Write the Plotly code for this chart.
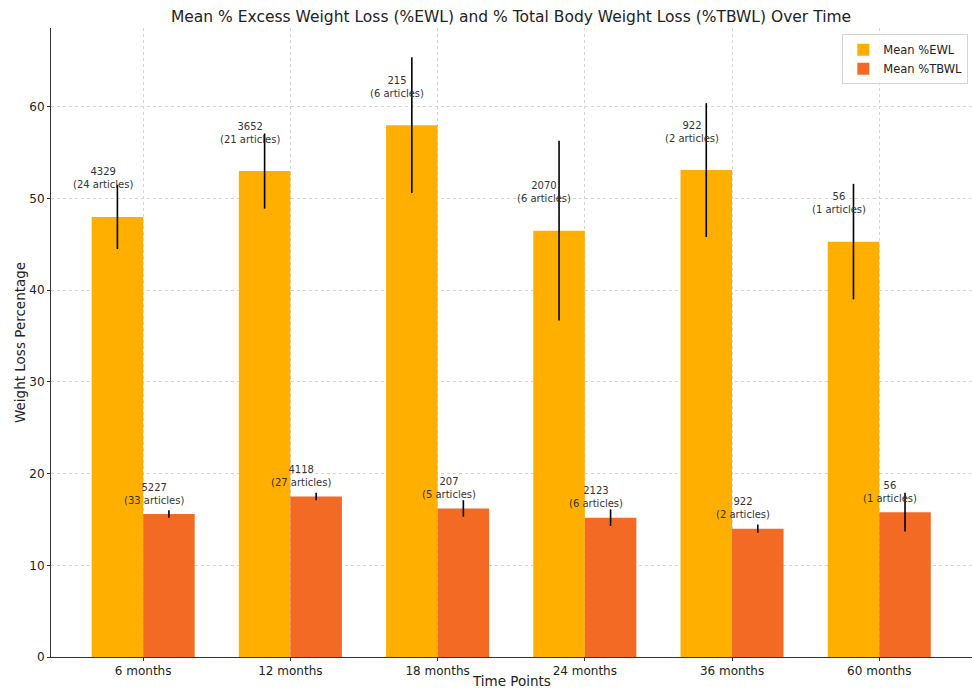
import plotly.graph_objects as go

categories = ["6 months", "12 months", "18 months", "24 months", "36 months", "60 months"]
ewl_mean = [48.0, 53.0, 58.0, 46.5, 53.1, 45.3]
ewl_err = [3.5, 4.1, 7.4, 9.8, 7.3, 6.3]
ewl_patients = [4329, 3652, 215, 2070, 922, 56]
ewl_articles = [24, 21, 6, 6, 2, 1]
tbwl_mean = [15.6, 17.5, 16.2, 15.2, 14.0, 15.8]
tbwl_err = [0.4, 0.4, 0.9, 0.9, 0.45, 2.1]
tbwl_patients = [5227, 4118, 207, 2123, 922, 56]
tbwl_articles = [33, 27, 5, 6, 2, 1]

W = 0.35
xs = list(range(len(categories)))
EWL_COLOR = "#FFAF00"
TBWL_COLOR = "#F26A23"
FONT = "DejaVu Sans"

fig = go.Figure()
fig.add_trace(go.Bar(
    x=xs, y=ewl_mean, name="Mean %EWL", width=W, offset=-W,
    marker=dict(color=EWL_COLOR, line=dict(width=0)),
    error_y=dict(type="data", array=ewl_err, color="black", thickness=1.6, width=0),
))
fig.add_trace(go.Bar(
    x=xs, y=tbwl_mean, name="Mean %TBWL", width=W, offset=0,
    marker=dict(color=TBWL_COLOR, line=dict(width=0)),
    error_y=dict(type="data", array=tbwl_err, color="black", thickness=1.6, width=0),
))

PL, PR, PT, PB = 51, 972, 28, 657
H, Wd = 690, 972


def px_x(x):
    return (x - PL) / (PR - PL)


def px_y(y):
    return (PB - y) / (PB - PT)


annotations = []
for i in xs:
    annotations.append(dict(
        x=i - W / 2 - 0.1, y=ewl_mean[i] + 3, xref="x", yref="y", yshift=-3,
        text=f"{ewl_patients[i]}<br>({ewl_articles[i]} articles)",
        showarrow=False, yanchor="bottom", xanchor="center",
        font=dict(family=FONT, size=10, color="#333333"),
    ))
    annotations.append(dict(
        x=i + W / 2 - 0.1, y=tbwl_mean[i] + 1, xref="x", yref="y", yshift=-3,
        text=f"{tbwl_patients[i]}<br>({tbwl_articles[i]} articles)",
        showarrow=False, yanchor="bottom", xanchor="center",
        font=dict(family=FONT, size=10, color="#333333"),
    ))

annotations.append(dict(
    text="Time Points", x=px_x(511), y=px_y(681), xref="paper", yref="paper",
    xanchor="center", yanchor="middle",
    showarrow=False, font=dict(family=FONT, size=13.5, color="#222222"),
))
annotations.append(dict(
    text="Weight Loss Percentage", textangle=-90, x=px_x(20), y=px_y(343),
    xref="paper", yref="paper", xanchor="center", yanchor="middle",
    showarrow=False, font=dict(family=FONT, size=13.5, color="#222222"),
))

fig.update_layout(
    width=Wd, height=H,
    margin=dict(l=PL, r=Wd - PR, t=PT, b=H - PB, autoexpand=False),
    paper_bgcolor="white", plot_bgcolor="white",
    barmode="overlay",
    font=dict(family=FONT, size=12, color="#222222"),
    title=dict(
        text="Mean % Excess Weight Loss (%EWL) and % Total Body Weight Loss (%TBWL) Over Time",
        x=px_x(511), xref="paper", xanchor="center", y=1 - 17 / H, yanchor="middle",
        font=dict(family=FONT, size=15.5, color="#222222"),
    ),
    legend=dict(
        x=0.996, y=0.99, xanchor="right", yanchor="top",
        bordercolor="#d5d5d5", borderwidth=1, bgcolor="rgba(255,255,255,0.8)",
        font=dict(family=FONT, size=11.5), itemwidth=30, tracegroupgap=0,
    ),
    annotations=annotations,
    showlegend=True,
)
fig.update_xaxes(
    range=[-0.626, 5.63], tickvals=xs, ticktext=categories,
    showgrid=True, gridcolor="#d6d6d6", griddash="dot", gridwidth=1,
    showline=True, linecolor="#333333", linewidth=1,
    ticks="outside", ticklen=3, tickcolor="#333333",
    tickfont=dict(family=FONT, size=12),
    automargin=False, zeroline=False,
)
fig.update_yaxes(
    range=[0, 68.6], tickvals=[0, 10, 20, 30, 40, 50, 60],
    showgrid=True, gridcolor="#d6d6d6", griddash="dot", gridwidth=1,
    showline=True, linecolor="#333333", linewidth=1,
    ticks="outside", ticklen=3, tickcolor="#333333",
    tickfont=dict(family=FONT, size=12),
    automargin=False, zeroline=False,
)

fig.write_html(
    "out.html",
    config={"displayModeBar": False},
    post_script="document.body.style.margin='0';document.body.style.overflow='hidden';",
)
